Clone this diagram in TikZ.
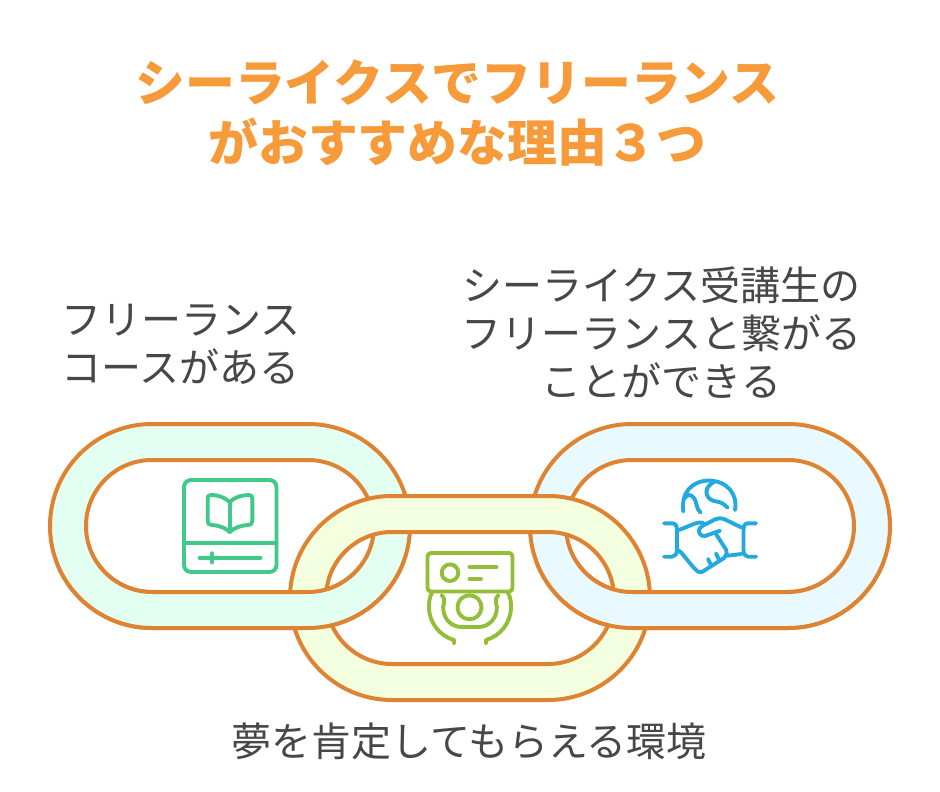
\documentclass[tikz,border=0pt]{standalone}
\usepackage{fontspec}
\setmainfont{Noto Sans CJK JP}
\definecolor{ringline}{HTML}{DE8331}
\definecolor{fillL}{HTML}{E3FFF2}
\definecolor{fillM}{HTML}{F3FFDE}
\definecolor{fillR}{HTML}{E8F9FF}
\definecolor{icoL}{HTML}{41C98A}
\definecolor{icoM}{HTML}{92BE38}
\definecolor{icoR}{HTML}{22AADF}
\definecolor{titlec}{HTML}{F79A3A}
\definecolor{textc}{HTML}{474747}
\tikzset{
  ring/.style={draw=ringline,line width=4pt,even odd rule},
  ico/.style={line width=3.9pt,line cap=round,line join=round},
  lab/.style={text=textc,font=\fontsize{40}{48}\selectfont,inner sep=0pt},
  ttl/.style={text=titlec,font=\fontsize{49.8}{60}\selectfont\bfseries,inner sep=0pt,align=center}
}
\begin{document}
\begin{tikzpicture}[x=1pt,y=-1pt]
\useasboundingbox (0,0) rectangle (940,792);
\fill[white] (0,0) rectangle (940,792);
\def\ringL{(152,424) -- (308,424) arc[start angle=-90,end angle=90,radius=102] -- (152,628) arc[start angle=90,end angle=270,radius=102] -- cycle (152,460) -- (308,460) arc[start angle=-90,end angle=90,radius=66] -- (152,592) arc[start angle=90,end angle=270,radius=66] -- cycle}
\def\ringR{(632,424) -- (788,424) arc[start angle=-90,end angle=90,radius=102] -- (632,628) arc[start angle=90,end angle=270,radius=102] -- cycle (632,460) -- (788,460) arc[start angle=-90,end angle=90,radius=66] -- (632,592) arc[start angle=90,end angle=270,radius=66] -- cycle}
\def\ringM{(392,496) -- (548,496) arc[start angle=-90,end angle=90,radius=102] -- (392,700) arc[start angle=90,end angle=270,radius=102] -- cycle (392,532) -- (548,532) arc[start angle=-90,end angle=90,radius=66] -- (392,664) arc[start angle=90,end angle=270,radius=66] -- cycle}
\path[ring,fill=fillL] \ringL;
\path[ring,fill=fillR] \ringR;
\path[ring,fill=fillM] \ringM;
\begin{scope}
\clip (0,562) rectangle (940,660);
\path[ring,fill=fillL] \ringL;
\path[ring,fill=fillR] \ringR;
\end{scope}
% book icon
\begin{scope}[ico]
\draw[icoL,rounded corners=7pt] (184,480) rectangle (276.5,572);
\draw[icoL] (184,543.3) -- (276.5,543.3);
\draw[icoL] (199.5,557.7) -- (260.5,557.7);
\draw[icoL] (211.7,553.3) -- (211.7,562.5);
\draw[icoL] (229.7,502) .. controls (224,497) and (218,495) .. (211,495) .. controls (208.5,495) and (207.7,496) .. (207.7,498.5) -- (207.7,521) .. controls (207.7,524) and (209,525) .. (212,525) .. controls (219,525.5) and (225,527.5) .. (229.7,532) .. controls (234.5,527.5) and (241,525.5) .. (248,525) .. controls (251,525) and (252.3,524) .. (252.3,521) -- (252.3,498.5) .. controls (252.3,496) and (251.5,495) .. (249,495) .. controls (242,495) and (235,497) .. (229.7,502) -- cycle;
\draw[icoL] (229.7,502) -- (229.7,532);
\end{scope}
% aircon/person icon
\begin{scope}[ico]
\draw[icoM,rounded corners=3.5pt] (427.5,553) rectangle (512.5,591.5);
\draw[icoM] (450,572.7) circle[radius=8.3];
\draw[icoM] (469.5,566.7) -- (496.5,566.7);
\draw[icoM] (469.5,578.7) -- (481,578.7);
\draw[icoM] (469.5,607.3) circle[radius=12];
\draw[icoM] (432,593) .. controls (429.5,597) and (429,602) .. (429,607) .. controls (429,623) and (440,636) .. (454,640) -- (454,643.3);
\draw[icoM] (441.7,595) .. controls (444,597) and (444.8,600) .. (444,603) .. controls (443,606) and (443,608) .. (443.3,610) .. controls (444.5,620) and (452,627) .. (461.7,627) -- (478.3,627) .. controls (488,627) and (495.5,620) .. (496.7,610) .. controls (497,608) and (497,606) .. (496,603) .. controls (495.2,600) and (496,597) .. (498.3,595);
\draw[icoM] (508,593) .. controls (510.5,597) and (511,602) .. (511,607) .. controls (511,623) and (500,636) .. (486,640) -- (486,643.3);
\end{scope}
% handshake icon
\begin{scope}[ico]
\draw[icoR] (683.3,511.5) .. controls (681,492) and (692,481) .. (709,480.5) .. controls (727,481) and (738,494) .. (735,510);
\draw[icoR] (684.5,498.5) .. controls (687,494) and (691,494) .. (694,498) .. controls (697,502) and (696,509) .. (700.5,512.5);
\draw[icoR] (714,482) .. controls (708,485) and (705,490) .. (707,495) .. controls (709,500) and (713,501) .. (719,502) .. controls (723,503) and (725,505.5) .. (727.5,507.5);
\draw[icoR] (664,523.3) -- (672,523.3) .. controls (675.5,523.3) and (677,526) .. (677,530) -- (677,550) .. controls (677,554) and (675,556.7) .. (672,556.7) -- (664,556.7);
\draw[icoR] (756,523.3) -- (748,523.3) .. controls (744.5,523.3) and (743.5,526) .. (743.5,530) -- (743.5,550) .. controls (743.5,554) and (745,556.7) .. (748,556.7) -- (756,556.7);
\draw[icoR] (679,530) -- (695,523.5) .. controls (698,522) and (701,522) .. (705,524);
\draw[icoR] (720,530.7) -- (705,536) .. controls (700,537) and (697,531) .. (700,528) .. controls (701,526.5) and (703,525.5) .. (705,524.5) -- (716,519) .. controls (719,518) and (721,518) .. (724,519) -- (741.5,527.5);
\draw[icoR] (716,534) -- (724,546.5) .. controls (728,551) and (727,555) .. (724,558) -- (702,572) .. controls (698,573) and (696,570) .. (694,568) -- (684,556) .. controls (682,553) and (681,552) .. (678.5,550.5);
\draw[icoR] (725,556) -- (741.5,554);
\draw[icoR] (708,559) -- (711,565);
\draw[icoR] (716,553.5) -- (719,559.5);
\end{scope}
% text
\node[ttl] (title) at (457.5,113) {シーライクスでフリーランス\\がおすすめな理由３つ};
\node[lab,align=left,anchor=west] (t1) at (61,344) {フリーランス\\コースがある};
\node[lab,align=center] (t2) at (661.5,333) {シーライクス受講生の\\フリーランスと繋がる\\ことができる};
\node[lab] (t3) at (469,741) {夢を肯定してもらえる環境};
\end{tikzpicture}
\end{document}
